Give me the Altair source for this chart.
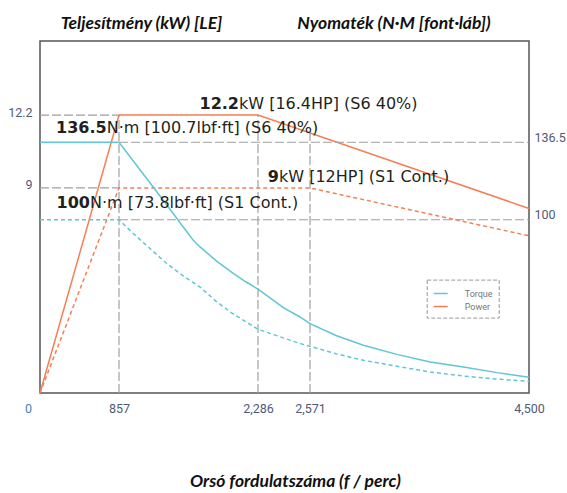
import altair as alt
import pandas as pd

# ---------------- data ----------------
rpm_ticks = [0, 857, 2286, 2571, 4500]
kw_ticks = [9, 12.2]
nm_ticks = [100, 136.5]

s6_power_rpm = [0, 857, 2286, 4500]
s6_power_kw = [0, 12.2, 12.2, 8.1]
s1_power_rpm = [0, 857, 2571, 4500]
s1_power_kw = [0, 9, 9, 6.9]

s6_torque_rpm = [0, 857, 1312, 1560, 1621, 1690, 1860, 2032, 2160, 2286, 2425, 2516, 2571,
                 2800, 3041, 3336, 3629, 3923, 4218, 4500]
s6_torque_nm = [136.5, 136.5, 109.2, 94.0, 90.3, 87.2, 80.5, 74.7, 70.8, 67.3, 58.6, 54.2, 51.1,
                45.5, 40.9, 36.6, 33.0, 30.7, 28.0, 25.8]
s1_torque_rpm = [0, 857, 1004, 1347, 1520, 1690, 1850, 2019, 2286, 2516, 2571, 2800, 3041, 3336,
                 3629, 3923, 4200, 4500]
s1_torque_nm = [100, 100, 93.5, 79.4, 73.5, 68.3, 61.8, 56.0, 48.4, 41.7, 40.4, 36.9, 33.8, 31.0,
                28.3, 26.4, 25.0, 23.9]

vline_rpm = [857, 2286, 2571]
vline_kw = [12.2, 12.2, 11.4]
hline_kw = [12.2, 9]
hline_nm = [136.5, 100]

power_notes = [("12.2", "kW [16.4HP] (S6 40%)", 2286, 12.2),
               ("9", "kW [12HP] (S1 Cont.)", 2571, 9)]
torque_notes = [("136.5", "N·m [100.7lbf·ft] (S6 40%)", 857, 136.5),
                ("100", "N·m [73.8lbf·ft] (S1 Cont.)", 857, 100)]

# ---------------- styles ----------------
CYAN = "#5fc6d6"
ORANGE = "#f47f55"
GRID = "#a0a0a0"
TXT = "#231f20"
LAB = "#505a78"
W, H = 489, 352
note_offsets = {"12.2": (-19, -6.5), "9": (-31, -6), "136.5": (-12.3, -9), "100": (-29, -11.5)}

title_style = dict(titleFont="Lato", titleFontSize=17.5, titleFontStyle="italic",
                   titleFontWeight="bold", titleColor="#111", titleAngle=0,
                   titleAlign="center", titleBaseline="alphabetic")
label_style = dict(labelFont="Roboto", labelFontSize=12.5, domain=False, ticks=False, grid=False)

X = alt.X("rpm:Q",
          scale=alt.Scale(domain=rpm_ticks, range=[0, 79, 218, 270, W], nice=False, zero=False),
          axis=alt.Axis(values=rpm_ticks, labelExpr="format(datum.value, ',')",
                        title="Orsó fordulatszáma (f / perc)", labelFlush=False,
                        titleX=255, titleY=93, labelPadding=9,
                        labelOffset={"condition": {"test": "datum.value === 0", "value": -12}, "value": 0},
                        labelColor={"condition": {"test": "datum.value === 0", "value": "#4a7fb8"}, "value": LAB},
                        **title_style, **label_style))

YP = alt.Y("kw:Q", scale=alt.Scale(domain=[0, 15.45], nice=False, zero=False),
           axis=alt.Axis(orient="left", values=kw_ticks, labelExpr="'' + datum.value",
                         title="Teljesítmény (kW) [LE]", labelFlush=False,
                         titleX=101, titleY=-12.7, labelPadding=8, labelOffset=-3,
                         labelColor=LAB, **title_style, **label_style))
YT = alt.Y("nm:Q", scale=alt.Scale(domain=[18.4, 184.2], nice=False, zero=False),
           axis=alt.Axis(orient="right", values=nm_ticks, labelExpr="'' + datum.value",
                         title="Nyomaték (N·M [font·láb])", labelFlush=False,
                         titleX=-135.5, titleY=-12.7, labelPadding=5, labelOffset=-5,
                         labelColor=LAB, **title_style, **label_style))

COLOR = alt.Color("q:N",
                  scale=alt.Scale(domain=["Torque", "Power"], range=[CYAN, ORANGE]),
                  legend=alt.Legend(orient="none", legendX=386.7, legendY=238.6, title=None,
                                    symbolType="stroke", symbolSize=196, symbolStrokeWidth=1.5,
                                    symbolDash=[1, 0], labelOffset=16,
                                    labelFont="Roboto", labelFontSize=9, labelColor="#777",
                                    labelExpr="datum.label + '\u00a0\u00a0\u00a0\u00a0\u00a0\u00a0'",
                                    padding=6, rowPadding=0, strokeColor="#999",
                                    fillColor="white"))

# ---------------- frames ----------------
df_p6 = pd.DataFrame({"rpm": s6_power_rpm, "kw": s6_power_kw, "q": "Power"})
df_p1 = pd.DataFrame({"rpm": s1_power_rpm, "kw": s1_power_kw, "q": "Power"})
df_t6 = pd.DataFrame({"rpm": s6_torque_rpm, "nm": s6_torque_nm, "q": "Torque"})
df_t1 = pd.DataFrame({"rpm": s1_torque_rpm, "nm": s1_torque_nm, "q": "Torque"})
df_v = pd.DataFrame({"rpm": vline_rpm, "kw": [0] * len(vline_rpm), "kw2": vline_kw})
df_hp = pd.DataFrame({"kw": hline_kw, "rpm": [rpm_ticks[0]] * 2, "rpm2": [rpm_ticks[1]] * 2})
df_ht = pd.DataFrame({"nm": hline_nm, "rpm": [rpm_ticks[1]] * 2, "rpm2": [rpm_ticks[-1]] * 2})

grid_kw = dict(color=GRID, strokeWidth=1.2, strokeDash=[9, 3])

p_layers = [
    alt.Chart(df_v).mark_rule(**grid_kw).encode(x=X, y=YP, y2="kw2"),
    alt.Chart(df_hp).mark_rule(**grid_kw).encode(x=X, x2="rpm2", y=YP),
    alt.Chart(df_p6).mark_line(strokeWidth=1.5).encode(x=X, y=YP, color=COLOR),
    alt.Chart(df_p1).mark_line(strokeWidth=1.5, strokeDash=[4, 3]).encode(x=X, y=YP, color=COLOR),
]
t_layers = [
    alt.Chart(df_ht).mark_rule(**grid_kw).encode(x=X, x2="rpm2", y=YT),
    alt.Chart(df_t6).mark_line(strokeWidth=1.5).encode(x=X, y=YT, color=COLOR),
    alt.Chart(df_t1).mark_line(strokeWidth=1.5, strokeDash=[4, 3]).encode(x=X, y=YT, color=COLOR),
]


def note_layers(notes, field, Y):
    out = []
    for bold, rest, rpm, val in notes:
        dx, dy = note_offsets[bold]
        d = pd.DataFrame({"rpm": [rpm], field: [val], "b": [bold], "r": [rest]})
        common = dict(font="DejaVu Sans", fontSize=16, color=TXT, baseline="alphabetic", dx=dx, dy=dy)
        out.append(alt.Chart(d).mark_text(align="right", fontWeight="bold", **common)
                   .encode(x=X, y=Y, text="b:N"))
        out.append(alt.Chart(d).mark_text(align="left", **common)
                   .encode(x=X, y=Y, text="r:N"))
    return out


power = alt.layer(*p_layers, *note_layers(power_notes, "kw", YP))
torque = alt.layer(*t_layers, *note_layers(torque_notes, "nm", YT))

chart = alt.layer(power, torque).resolve_scale(y="independent").properties(
    width=W, height=H,
    autosize=alt.AutoSizeParams(type="none"),
    padding={"left": 40, "top": 41, "right": 38, "bottom": 100},
    background="white",
).configure_view(stroke="#555", strokeWidth=1.5).configure_legend(strokeDash=[4, 2])

chart.save("out.html", embed_options={"renderer": "svg", "actions": False})
